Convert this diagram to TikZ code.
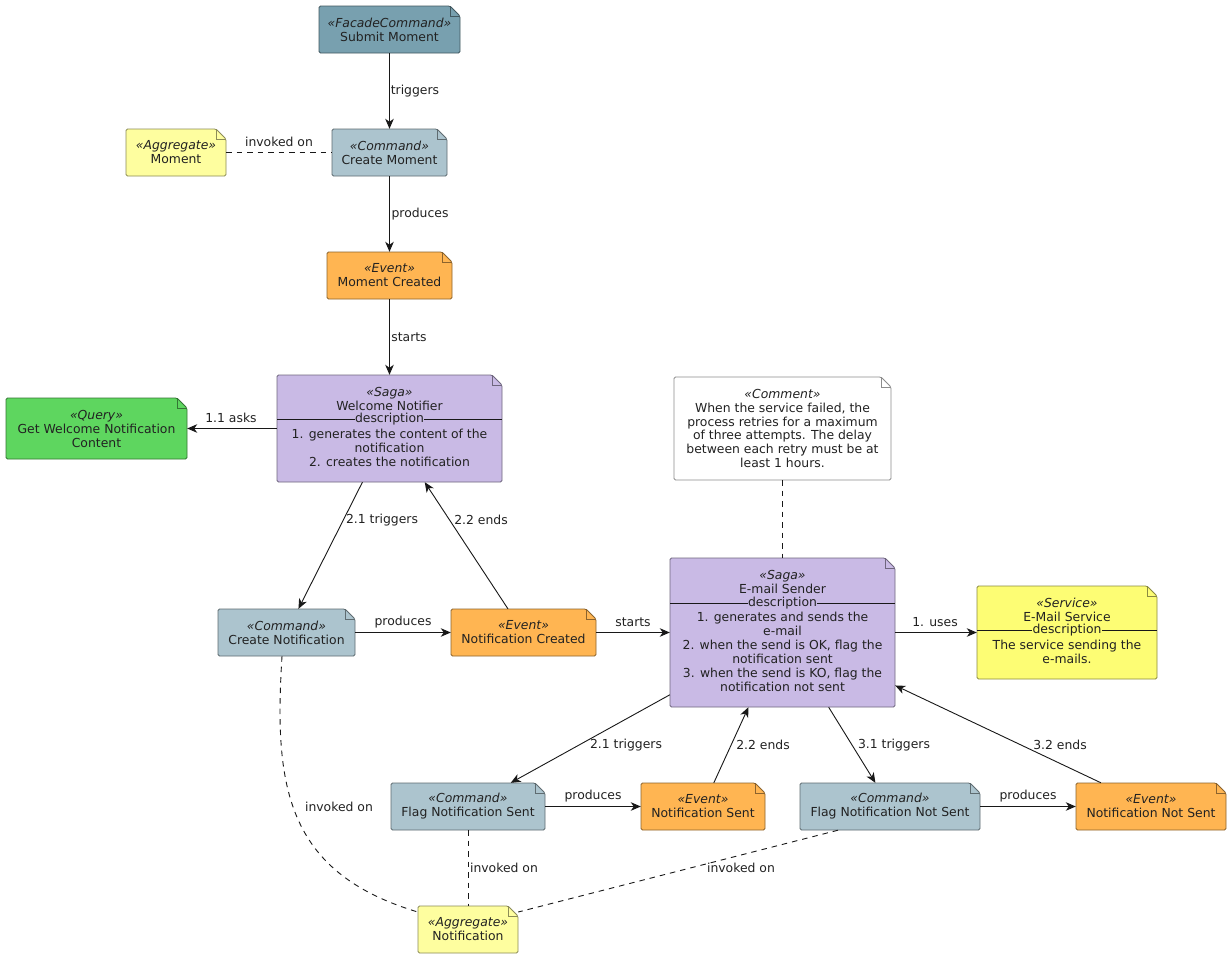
\documentclass[tikz,border=0pt]{standalone}
\usepackage{fontspec}
\setmainfont{DejaVu Sans}
\usetikzlibrary{arrows.meta,calc}
\definecolor{facade}{HTML}{78A0AF}
\definecolor{command}{HTML}{ACC4CE}
\definecolor{event}{HTML}{FFB552}
\definecolor{saga}{HTML}{C9BAE5}
\definecolor{aggr}{HTML}{FEFE9F}
\definecolor{query}{HTML}{5ED65F}
\definecolor{service}{HTML}{FDFD74}
\definecolor{ink}{HTML}{222222}
\definecolor{edgec}{HTML}{181818}
\newcommand\notebox[6]{%
  \path[draw=#6!55!black, fill=#6, line width=0.8pt, rounded corners=1.5pt]
    (#2,#3) -- ({#4-10},#3) -- (#4,{#3+10}) -- (#4,#5) -- (#2,#5) -- cycle;
  \draw[#6!55!black, line width=0.8pt] ({#4-10},#3) -- ({#4-10},{#3+10}) -- (#4,{#3+10});
  \node[inner sep=0pt, minimum width={(#4-#2)*1pt}, minimum height={(#5-#3)*1pt}] (#1) at ({(#2+#4)/2},{(#3+#5)/2}) {};
}
\newcommand\st[1]{\textit{«#1»}}
\tikzset{
  txt/.style={text=ink, font=\fontsize{12.4}{13.9}\selectfont, align=center, inner sep=0pt},
  lbl/.style={text=ink, font=\fontsize{12.4}{14}\selectfont, inner sep=0pt},
  arr/.style={draw=edgec, line width=0.9pt, -{Stealth[length=10pt,width=8.5pt,inset=3pt]}},
  dline/.style={draw=edgec, line width=0.9pt, dash pattern=on 5.5pt off 5pt},
  sep/.style={draw=edgec, line width=0.8pt},
  desc/.style={txt, inner xsep=0.5pt, inner ysep=0pt},
}
\begin{document}
\begin{tikzpicture}[x=1pt,y=-1pt]
\fill[white] (0,0) rectangle (1232,959);
\useasboundingbox (0,0) rectangle (1232,959);

% notes
\notebox{submit}{319}{6}{460}{53}{facade}
\node[txt] (submitT) at (389.5,29.5) {\st{FacadeCommand}\\Submit Moment};

\notebox{createmoment}{332}{129}{447}{176}{command}
\node[txt] (createmomentT) at (389.5,152.5) {\st{Command}\\Create Moment};

\notebox{moment}{126}{129}{226}{176}{aggr}
\node[txt] (momentT) at (176,152.5) {\st{Aggregate}\\Moment};

\notebox{momentcreated}{327}{252}{452}{299}{event}
\node[txt] (momentcreatedT) at (389.5,275.5) {\st{Event}\\Moment Created};

\notebox{welcome}{277}{375}{502}{482}{saga}
\node[txt] (welcomeH) at (389.5,399) {\st{Saga}\\Welcome Notifier};
\draw[sep] (277,419.5) -- (502,419.5);
\node[desc, fill=saga] (welcomeD) at (389.5,419.5) {description};
\node[txt] (welcomeB) at (389.5,447.5) {1. generates the content of the\\notification\\2. creates the notification};

\notebox{query}{6}{398}{187}{459}{query}
\node[txt] (queryT) at (96.5,429) {\st{Query}\\Get Welcome Notification\\Content};

\notebox{comment}{674}{377}{891}{480}{white}
\node[txt] (commentT) at (782.5,428.5) {\st{Comment}\\When the service failed, the\\process retries for a maximum\\of three attempts. The delay\\between each retry must be at\\least 1 hours.};

\notebox{email}{670}{558}{895}{707}{saga}
\node[txt] (emailH) at (782.5,582) {\st{Saga}\\E-mail Sender};
\draw[sep] (670,603) -- (895,603);
\node[desc, fill=saga] (emailD) at (782.5,603) {description};
\node[txt] (emailB) at (782.5,652) {1. generates and sends the\\e-mail\\2. when the send is OK, flag the\\notification sent\\3. when the send is KO, flag the\\notification not sent};

\notebox{service}{977}{586}{1157}{679}{service}
\node[txt] (serviceH) at (1067,609.5) {\st{Service}\\E-Mail Service};
\draw[sep] (977,630.5) -- (1157,630.5);
\node[desc, fill=service] (serviceD) at (1067,630.5) {description};
\node[txt] (serviceB) at (1067,652) {The service sending the\\e-mails.};

\notebox{createnotif}{218}{609}{355}{656}{command}
\node[txt] (createnotifT) at (286.5,632.5) {\st{Command}\\Create Notification};

\notebox{notifcreated}{451}{609}{596}{656}{event}
\node[txt] (notifcreatedT) at (523.5,632.5) {\st{Event}\\Notification Created};

\notebox{flagsent}{391}{783}{545}{830}{command}
\node[txt] (flagsentT) at (468,806.5) {\st{Command}\\Flag Notification Sent};

\notebox{notifsent}{641}{783}{765}{830}{event}
\node[txt] (notifsentT) at (703,806.5) {\st{Event}\\Notification Sent};

\notebox{flagnotsent}{800}{783}{980}{830}{command}
\node[txt] (flagnotsentT) at (890,806.5) {\st{Command}\\Flag Notification Not Sent};

\notebox{notifnotsent}{1076}{783}{1226}{830}{event}
\node[txt] (notifnotsentT) at (1151,806.5) {\st{Event}\\Notification Not Sent};

\notebox{notif}{418}{906}{518}{953}{aggr}
\node[txt] (notifT) at (468,929.5) {\st{Aggregate}\\Notification};

% connectors
\draw[arr] (submit) -- (createmoment);
\draw[arr] (createmoment) -- (momentcreated);
\draw[arr] (momentcreated) -- (welcome);
\draw[dline] (moment) -- (createmoment);
\draw[arr] (welcome) -- (query);
\draw[arr] (welcome) -- (createnotif);
\draw[arr] (notifcreated) -- (welcome);
\draw[arr] (createnotif) -- (notifcreated);
\draw[arr] (notifcreated) -- (email);
\draw[dline] (comment) -- (email);
\draw[arr] (email) -- (service);
\draw[arr] (email) -- (flagsent);
\draw[arr] (notifsent) -- (email);
\draw[arr] (email) -- (flagnotsent);
\draw[arr] (notifnotsent) -- (email);
\draw[arr] (flagsent) -- (notifsent);
\draw[arr] (flagnotsent) -- (notifnotsent);
\draw[dline] ([xshift=-4.5pt]createnotif.south) .. controls (274,785) and (285,872) .. ([yshift=17.5pt]notif.west);
\draw[dline] (flagsent) -- (notif);
\draw[dline] ([xshift=-52pt]flagnotsent.south) -- ([yshift=17.5pt]notif.east);

% labels
\node[lbl] (l1) at (415,91) {triggers};
\node[lbl] (l2) at (420,214) {produces};
\node[lbl] (l3) at (409,337) {starts};
\node[lbl] (l4) at (279,142) {invoked on};
\node[lbl] (l5) at (231,418) {1.1 asks};
\node[lbl] (l6) at (382,520) {2.1 triggers};
\node[lbl] (l7) at (481,520) {2.2 ends};
\node[lbl] (l8) at (403,622) {produces};
\node[lbl] (l9) at (633,622) {starts};
\node[lbl] (l10) at (935,622) {1. uses};
\node[lbl] (l11) at (626,745) {2.1 triggers};
\node[lbl] (l12) at (763,745) {2.2 ends};
\node[lbl] (l13) at (894,745) {3.1 triggers};
\node[lbl] (l14) at (1060,745) {3.2 ends};
\node[lbl] (l15) at (593,796) {produces};
\node[lbl] (l16) at (1028,796) {produces};
\node[lbl] (l17) at (339,807) {invoked on};
\node[lbl] (l18) at (504,868) {invoked on};
\node[lbl] (l19) at (741,868) {invoked on};
\end{tikzpicture}
\end{document}
